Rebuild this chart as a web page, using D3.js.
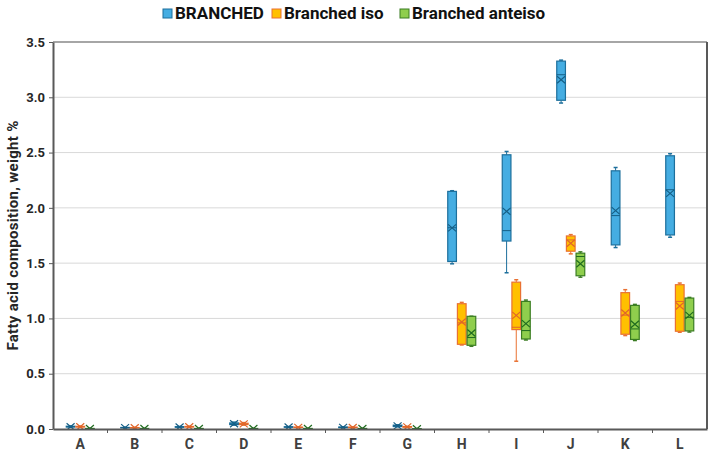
<!DOCTYPE html>
<html>
<head>
<meta charset="utf-8">
<title>Branched fatty acids</title>
<script src="https://d3js.org/d3.v7.min.js"></script>
<style>
  body { margin: 0; background: #fff; }
  text { font-family: Roboto, "Liberation Sans", sans-serif; }
</style>
</head>
<body>
<div id="chart"></div>
<script>
// categories and box stats: [min, q1, median, q3, max, mean]
let categories = ["A", "B", "C", "D", "E", "F", "G", "H", "I", "J", "K", "L"];
let seriesNames = ["BRANCHED", "Branched iso", "Branched anteiso"];

let branched = [
    [0.015, 0.018, 0.020, 0.025, 0.028, 0.021],
    [0.008, 0.010, 0.012, 0.014, 0.016, 0.012],
    [0.014, 0.016, 0.018, 0.021, 0.023, 0.018],
    [0.035, 0.040, 0.045, 0.055, 0.062, 0.048],
    [0.014, 0.016, 0.018, 0.020, 0.022, 0.018],
    [0.010, 0.012, 0.015, 0.018, 0.020, 0.015],
    [0.020, 0.022, 0.030, 0.035, 0.038, 0.028],
    [1.494, 1.515, 1.820, 2.149, 2.155, 1.819],
    [1.413, 1.700, 1.794, 2.480, 2.510, 1.968],
    [2.948, 2.973, 3.204, 3.327, 3.336, 3.159],
    [1.641, 1.665, 1.930, 2.335, 2.365, 1.975],
    [1.734, 1.755, 2.164, 2.471, 2.490, 2.131]
];
let branchedIso = [
    [0.015, 0.018, 0.020, 0.024, 0.027, 0.020],
    [0.007, 0.009, 0.011, 0.013, 0.015, 0.011],
    [0.016, 0.018, 0.020, 0.023, 0.025, 0.020],
    [0.035, 0.040, 0.045, 0.052, 0.058, 0.046],
    [0.012, 0.014, 0.015, 0.017, 0.019, 0.015],
    [0.010, 0.012, 0.014, 0.017, 0.019, 0.014],
    [0.014, 0.016, 0.020, 0.022, 0.024, 0.019],
    [0.760, 0.766, 0.960, 1.133, 1.145, 0.968],
    [0.613, 0.899, 0.920, 1.328, 1.350, 1.028],
    [1.584, 1.608, 1.710, 1.746, 1.758, 1.680],
    [0.845, 0.857, 1.030, 1.233, 1.260, 1.049],
    [0.875, 0.884, 1.154, 1.305, 1.320, 1.112]
];
let branchedAnteiso = [
    [0.002, 0.003, 0.004, 0.005, 0.006, 0.004],
    [0.002, 0.003, 0.004, 0.005, 0.006, 0.004],
    [0.002, 0.003, 0.004, 0.005, 0.006, 0.004],
    [0.002, 0.003, 0.004, 0.005, 0.006, 0.004],
    [0.002, 0.003, 0.004, 0.005, 0.006, 0.004],
    [0.002, 0.003, 0.004, 0.005, 0.006, 0.004],
    [0.001, 0.002, 0.002, 0.003, 0.004, 0.002],
    [0.748, 0.757, 0.827, 1.019, 1.020, 0.868],
    [0.805, 0.814, 0.890, 1.154, 1.166, 0.953],
    [1.373, 1.386, 1.560, 1.590, 1.602, 1.494],
    [0.800, 0.810, 0.905, 1.118, 1.127, 0.947],
    [0.877, 0.887, 1.010, 1.184, 1.190, 1.028]
];
let yTicks = [0, 0.5, 1.0, 1.5, 2.0, 2.5, 3.0, 3.5];

let fills = ["#45ade2", "#ffc000", "#8fce4d"];
let strokes = ["#1d6f9c", "#e97132", "#3b7d23"];
let marks = ["#155f86", "#e0662a", "#1f6b1f"];

let w = 714, h = 454;
let margin = {top: 42, right: 7, bottom: 25, left: 53};

let svg = d3.select("#chart").append("svg")
    .attr("width", w).attr("height", h);

let x = d3.scaleBand()
    .domain(categories)
    .range([margin.left, w - margin.right]);
let inner = d3.scaleBand()
    .domain(seriesNames)
    .range([x.bandwidth() / 2 - 14, x.bandwidth() / 2 + 14])
    .paddingInner(0.1);
let y = d3.scaleLinear()
    .domain([0, 3.5])
    .range([h - margin.bottom, margin.top]);

// gridlines
svg.append("g")
    .selectAll("line")
    .data(yTicks.slice(1))
    .enter().append("line")
    .attr("x1", margin.left).attr("x2", w - margin.right)
    .attr("y1", d => y(d)).attr("y2", d => y(d))
    .attr("stroke", "#d9d9d9").attr("stroke-width", 1);

// frame top / right
svg.append("line")
    .attr("x1", margin.left).attr("x2", w - margin.right)
    .attr("y1", margin.top).attr("y2", margin.top)
    .attr("stroke", "#a6a6a6").attr("stroke-width", 2);
svg.append("line")
    .attr("x1", w - margin.right).attr("x2", w - margin.right)
    .attr("y1", margin.top).attr("y2", h - margin.bottom)
    .attr("stroke", "#595959").attr("stroke-width", 2);

svg.append("clipPath").attr("id", "plot")
    .append("rect")
    .attr("x", margin.left).attr("y", margin.top)
    .attr("width", w - margin.left - margin.right)
    .attr("height", h - margin.top - margin.bottom);

let plot = svg.append("g").attr("clip-path", "url(#plot)");

let allSeries = [branched, branchedIso, branchedAnteiso];

allSeries.forEach(function(data, s) {
    let g = plot.append("g");
    let bw = inner.bandwidth();
    let groups = g.selectAll("g")
        .data(data)
        .enter().append("g")
        .attr("transform", (d, i) => "translate(" + (x(categories[i]) + inner(seriesNames[s])) + ",0)");

    // whiskers
    groups.append("line")
        .attr("x1", bw / 2).attr("x2", bw / 2)
        .attr("y1", d => y(d[0])).attr("y2", d => y(d[1]))
        .attr("stroke", strokes[s]).attr("stroke-width", 1);
    groups.append("line")
        .attr("x1", bw / 2).attr("x2", bw / 2)
        .attr("y1", d => y(d[3])).attr("y2", d => y(d[4]))
        .attr("stroke", strokes[s]).attr("stroke-width", 1);
    groups.append("line")
        .attr("x1", bw / 2 - 2).attr("x2", bw / 2 + 2)
        .attr("y1", d => y(d[0])).attr("y2", d => y(d[0]))
        .attr("stroke", strokes[s]).attr("stroke-width", 1.5);
    groups.append("line")
        .attr("x1", bw / 2 - 2).attr("x2", bw / 2 + 2)
        .attr("y1", d => y(d[4])).attr("y2", d => y(d[4]))
        .attr("stroke", strokes[s]).attr("stroke-width", 1.5);

    // box
    groups.append("rect")
        .attr("x", 0).attr("width", bw)
        .attr("y", d => y(d[3]))
        .attr("height", d => y(d[1]) - y(d[3]))
        .attr("fill", fills[s])
        .attr("stroke", strokes[s]).attr("stroke-width", 1.2);

    // median
    groups.append("line")
        .attr("x1", 0).attr("x2", bw)
        .attr("y1", d => y(d[2])).attr("y2", d => y(d[2]))
        .attr("stroke", marks[s]).attr("stroke-width", 1);

    // mean X
    groups.append("path")
        .attr("d", d => {
            let cx = bw / 2, cy = y(d[5]);
            return "M" + (cx - 4) + "," + (cy - 3.5) + "L" + (cx + 4) + "," + (cy + 3.5) +
                   "M" + (cx - 4) + "," + (cy + 3.5) + "L" + (cx + 4) + "," + (cy - 3.5);
        })
        .attr("stroke", marks[s]).attr("stroke-width", 1.2)
        .attr("fill", "none");
});

// y axis
let yAxis = svg.append("g")
    .attr("transform", "translate(" + margin.left + ",0)")
    .call(d3.axisLeft(y).tickValues(yTicks).tickFormat(d3.format(".1f")).tickSize(4).tickSizeOuter(0));
yAxis.select(".domain").attr("stroke", "#595959").attr("stroke-width", 2);
yAxis.selectAll(".tick line").attr("stroke", "#595959");
yAxis.selectAll("text")
    .attr("font-size", "13px").attr("font-weight", "bold")
    .attr("fill", "#262626").attr("dx", "-1");

// x axis
let xAxis = svg.append("g")
    .attr("transform", "translate(0," + (h - margin.bottom) + ")")
    .call(d3.axisBottom(x).tickSize(0).tickSizeOuter(0));
xAxis.select(".domain").attr("stroke", "#595959").attr("stroke-width", 2);
xAxis.selectAll("text")
    .attr("font-size", "14px").attr("font-weight", "bold")
    .attr("fill", "#404040").attr("dy", "1.2em");

// ticks between categories
svg.append("g")
    .selectAll("line")
    .data(categories.slice(1))
    .enter().append("line")
    .attr("x1", d => x(d)).attr("x2", d => x(d))
    .attr("y1", h - margin.bottom).attr("y2", h - margin.bottom + 4)
    .attr("stroke", "#595959").attr("stroke-width", 1);

// y label
svg.append("text")
    .attr("transform", "translate(18," + ((margin.top + h - margin.bottom) / 2) + ") rotate(-90)")
    .attr("text-anchor", "middle")
    .attr("font-size", "15px").attr("font-weight", "bold")
    .attr("letter-spacing", "0.3px")
    .attr("fill", "#262626")
    .text("Fatty acid composition,  weight %");

// legend
let legendX = [163, 272, 400];
let legend = svg.append("g")
    .selectAll("g")
    .data(seriesNames)
    .enter().append("g")
    .attr("transform", (d, i) => "translate(" + legendX[i] + ",13)");
legend.append("rect")
    .attr("x", 0).attr("y", -4).attr("width", 9).attr("height", 9)
    .attr("fill", (d, i) => fills[i])
    .attr("stroke", (d, i) => strokes[i]).attr("stroke-width", 1);
legend.append("text")
    .attr("x", 12).attr("y", 6)
    .attr("font-size", "17px").attr("font-weight", "bold")
    .attr("fill", "#111")
    .text(d => d);
</script>
</body>
</html>
